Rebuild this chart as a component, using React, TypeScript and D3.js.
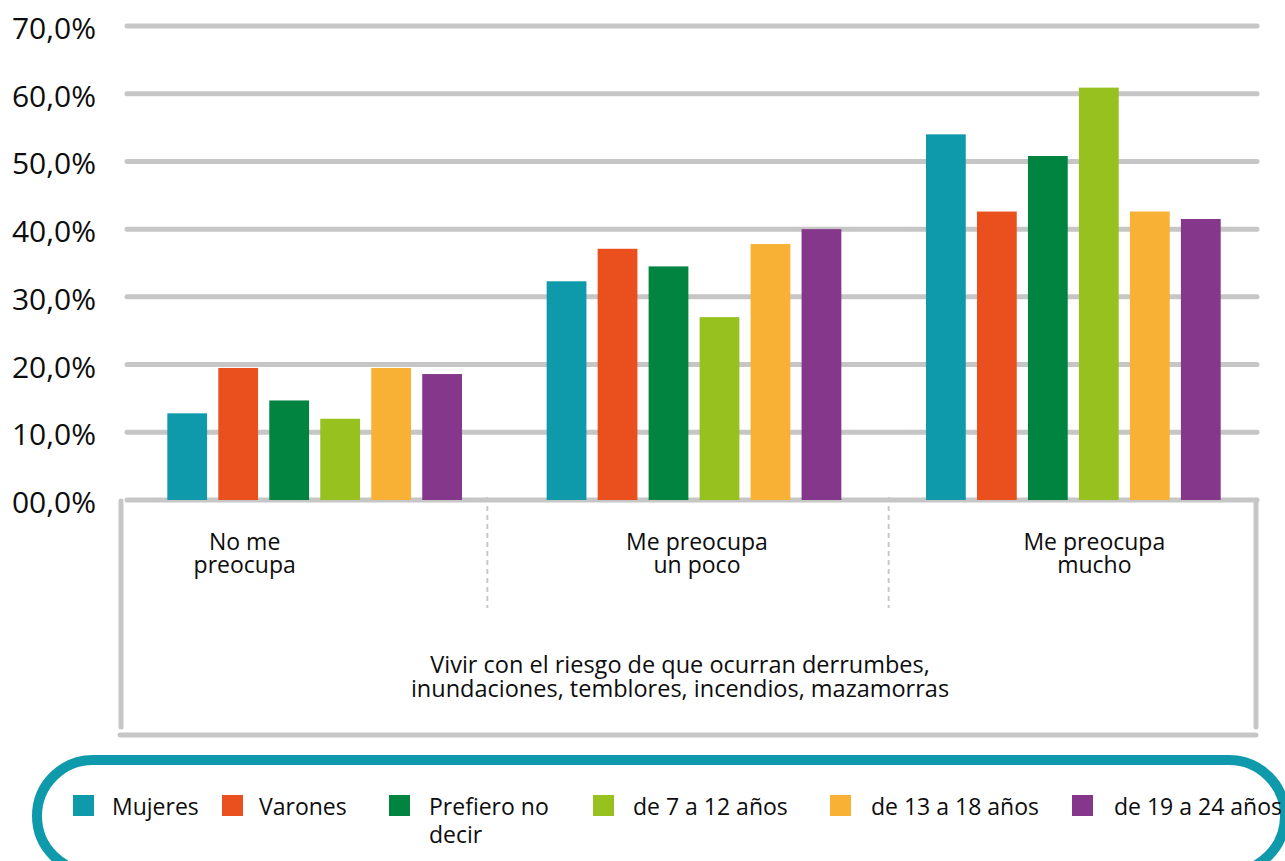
import React from "react";
import * as d3 from "d3";

const categories = ["No me preocupa", "Me preocupa un poco", "Me preocupa mucho"];
const categoryLines = [["No me", "preocupa"], ["Me preocupa", "un poco"], ["Me preocupa", "mucho"]];
const seriesNames = ["Mujeres", "Varones", "Prefiero no decir", "de 7 a 12 años", "de 13 a 18 años", "de 19 a 24 años"];
const legendLines = [["Mujeres"], ["Varones"], ["Prefiero no", "decir"], ["de 7 a 12 años"], ["de 13 a 18 años"], ["de 19 a 24 años"]];
const mujeres = [12.8, 32.3, 54.0];
const varones = [19.5, 37.1, 42.6];
const prefiero = [14.7, 34.5, 50.8];
const de7a12 = [12.0, 27.0, 60.9];
const de13a18 = [19.5, 37.8, 42.6];
const de19a24 = [18.6, 40.0, 41.5];
const seriesValues = [mujeres, varones, prefiero, de7a12, de13a18, de19a24];
const yTicks = [0, 10, 20, 30, 40, 50, 60, 70];
const tickLabels = ["00,0%", "10,0%", "20,0%", "30,0%", "40,0%", "50,0%", "60,0%", "70,0%"];
const titleLines = ["Vivir con el riesgo de que ocurran derrumbes,", "inundaciones, temblores, incendios, mazamorras"];

const colors = ["#0f9aab", "#e9501e", "#00843f", "#96c11f", "#f8b134", "#84378b"];
const FONT = "'Open Sans', 'Noto Sans', sans-serif";
const GRID = "#c6c6c6";
const TEXT = "#0d0d0d";
const labelDx = [-70, 3, 21];
const sepDx = [-17, 5];
const legendSquareX = [73, 222, 389, 593, 830, 1072];
const legendTextX = [112, 259, 429, 633, 871, 1114];

export default function App() {
  const W = 1285, H = 861;
  const y = d3.scaleLinear().domain([0, 70]).range([500, 26]);
  const x0 = d3.scaleBand<string>().domain(categories).range([125, 1263]).paddingInner(0).paddingOuter(0);
  const x1 = d3.scaleBand<string>().domain(seriesNames).range([0, x0.bandwidth()]).paddingInner(0.22).paddingOuter(0.83);
  const axisLeft = 121, axisRight = 1256;

  return (
    <svg width={W} height={H} style={{ position: "absolute", left: 0, top: 0, background: "#fff" }} fontFamily={FONT}>
      {/* gridlines */}
      {yTicks.map((t) => (
        <line key={"g" + t} x1={127} x2={1257} y1={y(t)} y2={y(t)} stroke={GRID} strokeWidth={5} strokeLinecap="round" />
      ))}
      {/* y labels */}
      {yTicks.map((t, i) => (
        <text key={"yl" + t} x={96} y={y(t) + 13} textAnchor="end" fontSize={30} fill={TEXT}>{tickLabels[i]}</text>
      ))}
      {/* bars */}
      {categories.map((c, ci) => (
        <g key={c} transform={`translate(${x0(c)},0)`}>
          {seriesNames.map((s, si) => (
            <rect key={s} x={x1(s)} width={x1.bandwidth()} y={y(seriesValues[si][ci])} height={y(0) - y(seriesValues[si][ci])} fill={colors[si]} />
          ))}
        </g>
      ))}
      {/* axis box */}
      <line x1={axisLeft} x2={axisLeft} y1={y(0) + 1} y2={727} stroke={GRID} strokeWidth={5} strokeLinecap="round" />
      <line x1={axisRight} x2={axisRight} y1={y(0)} y2={727} stroke={GRID} strokeWidth={5} strokeLinecap="round" />
      <line x1={axisLeft - 1} x2={axisRight} y1={735} y2={735} stroke={GRID} strokeWidth={5} strokeLinecap="round" />
      {/* separators */}
      {categories.slice(1).map((c, i) => (
        <line key={"s" + c} x1={(x0(c) as number) + sepDx[i]} x2={(x0(c) as number) + sepDx[i]} y1={497} y2={608} stroke="#c8c8c8" strokeWidth={2} strokeDasharray="5,4" />
      ))}
      {/* category labels */}
      {categories.map((c, ci) => (
        <text key={"cl" + c} textAnchor="middle" fontSize={23} fill={TEXT}>
          {categoryLines[ci].map((ln, li) => (
            <tspan key={li} x={(x0(c) as number) + x0.bandwidth() / 2 + labelDx[ci]} y={550 + li * 23}>{ln}</tspan>
          ))}
        </text>
      ))}
      {/* axis title */}
      <text textAnchor="middle" fontSize={23.5} fill={TEXT}>
        {titleLines.map((ln, li) => (
          <tspan key={li} x={680} y={673 + li * 24}>{ln}</tspan>
        ))}
      </text>
      {/* legend */}
      <rect x={37} y={760} width={1248} height={112} rx={56} ry={56} fill="none" stroke="#0f9aab" strokeWidth={10} />
      {seriesNames.map((s, si) => (
        <g key={"lg" + s}>
          <rect x={legendSquareX[si]} y={795} width={21} height={21} fill={colors[si]} />
          <text fontSize={23} fill={TEXT}>
            {legendLines[si].map((ln, li) => (
              <tspan key={li} x={legendTextX[si]} y={815 + li * 28}>{ln}</tspan>
            ))}
          </text>
        </g>
      ))}
    </svg>
  );
}
